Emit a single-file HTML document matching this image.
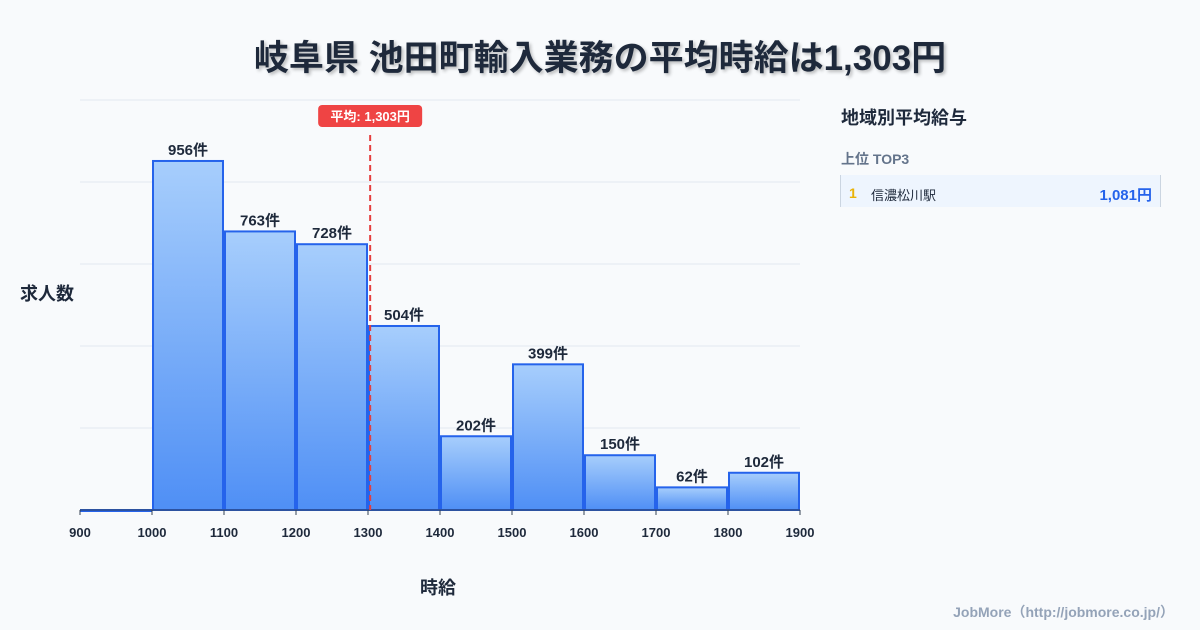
<!DOCTYPE html>
<html><head><meta charset="utf-8"><style>
body{margin:0;width:1200px;height:630px;background:#f8fafc;font-family:"Liberation Sans","Noto Sans CJK JP",sans-serif;overflow:hidden;position:relative}
.t{position:absolute}
</style></head><body>
<div class="t" style="left:0;width:1200px;top:30px;text-align:center;font-size:35px;font-weight:bold;color:#1e293b;text-shadow:2px 2px 3px rgba(0,0,0,0.25)">岐阜県 池田町輸入業務の平均時給は1,303円</div>
<svg id="c" width="1200" height="630" style="position:absolute;left:0;top:0">
<defs><linearGradient id="g" x1="0" y1="0" x2="0" y2="1"><stop offset="0" stop-color="#a7cefc"/><stop offset="1" stop-color="#4f8ff5"/></linearGradient></defs>
</svg>
<div class="t" style="left:20px;top:280px;font-size:18px;font-weight:bold;color:#1e293b">求人数</div>
<div class="t" style="left:420px;top:574px;font-size:18px;font-weight:bold;color:#1e293b">時給</div>
<div class="t" style="left:841px;top:104px;font-size:18px;font-weight:bold;color:#1e293b">地域別平均給与</div>
<div class="t" style="left:841px;top:149px;font-size:14px;font-weight:bold;color:#64748b">上位 TOP3</div>
<div class="t" style="left:840px;top:175px;width:319px;height:32px;background:#eef5fe;border-left:1px solid #cbd5e1;border-right:1px solid #cbd5e1">
<span style="position:absolute;left:8px;top:10px;font-size:14px;font-weight:bold;color:#eab308">1</span>
<span style="position:absolute;left:30px;top:10px;font-size:13px;color:#1e293b">信濃松川駅</span>
<span style="position:absolute;right:8px;top:9px;font-size:15px;font-weight:bold;color:#2563eb">1,081円</span></div>
<div class="t" style="right:26px;top:602px;font-size:14px;font-weight:bold;color:#94a3b8">JobMore（http://jobmore.co.jp/）</div>
<script>
const binStarts=[900,1000,1100,1200,1300,1400,1500,1600,1700,1800];
const counts=[0,956,763,728,504,202,399,150,62,102];
const xTicks=[900,1000,1100,1200,1300,1400,1500,1600,1700,1800,1900];
const meanValue=1303;
const yMax=1123;
const svg=document.getElementById('c');
const NS='http://www.w3.org/2000/svg';
const X=v=>80+(v-900)*0.72, Y=v=>510-v/yMax*410;
function mk(t,a){const e=document.createElementNS(NS,t);for(const k in a)e.setAttribute(k,a[k]);svg.appendChild(e);return e;}
for(let i=0;i<=5;i++){const l=mk('line',{x1:80,x2:800,y1:510-i*82,y2:510-i*82,stroke:'#e2e8f0','stroke-width':1});

}
binStarts.forEach((b,i)=>{const x0=X(b)+1,x1=X(b+100)-1,y=Y(counts[i]);
const r=mk('rect',{x:x0,y:y,width:x1-x0,height:Math.max(510-y,1),fill:'url(#g)',stroke:'#2563eb','stroke-width':2});


if(counts[i]>0){const t=mk('text',{x:(x0+x1)/2,y:y-6,'text-anchor':'middle','font-size':15,'font-weight':'bold',fill:'#1e293b'});t.textContent=counts[i]+'件';

}});
const ax=mk('line',{x1:80,x2:800,y1:510,y2:510,stroke:'#334155','stroke-width':1});


xTicks.forEach(v=>{mk('line',{x1:X(v),x2:X(v),y1:510,y2:515,stroke:'#334155'});
const t=mk('text',{x:X(v),y:537,'text-anchor':'middle','font-size':13,'font-weight':'bold',fill:'#1e293b'});t.textContent=v;

});
const mx=X(meanValue);
const ml=mk('line',{x1:mx,x2:mx,y1:135,y2:510,stroke:'#e53e3e','stroke-width':2,'stroke-dasharray':'6,4'});


const mb=mk('rect',{x:mx-52,y:105,width:104,height:22,rx:4,fill:'#ef4444'});


const mt=mk('text',{x:mx,y:121,'text-anchor':'middle','font-size':13,'font-weight':'bold',fill:'#fff'});
mt.textContent='平均: '+meanValue.toLocaleString('en-US')+'円';


</script>
</body></html>
